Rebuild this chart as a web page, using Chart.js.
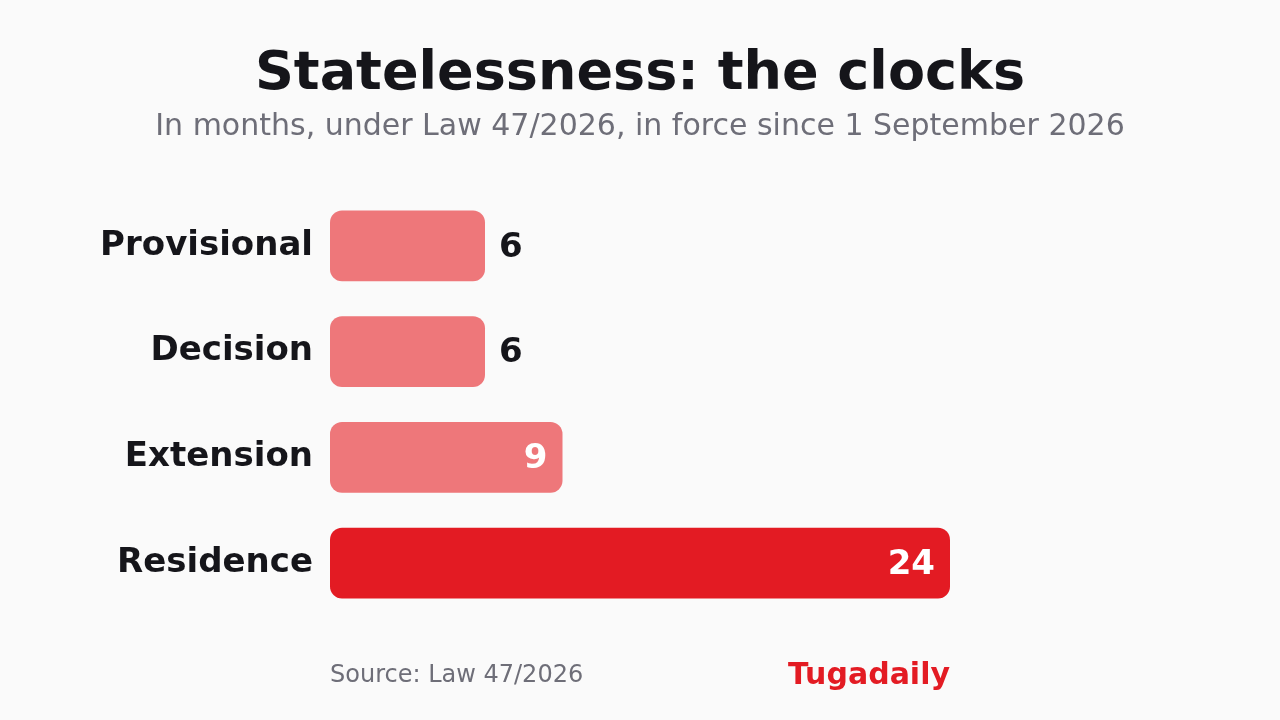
<!DOCTYPE html>
<html><head><meta charset="utf-8">
<script src="https://cdn.jsdelivr.net/npm/chart.js@4"></script>
<style>
html,body{margin:0;padding:0;background:#fafafa;width:1280px;height:720px;overflow:hidden;font-family:"DejaVu Sans",sans-serif;}
#wrap{position:absolute;left:0;top:0;width:1280px;height:720px;}
.t{position:absolute;white-space:nowrap;}
#title{left:0;width:1280px;text-align:center;top:37px;font-size:54px;font-weight:bold;color:#15151a;line-height:68px;}
#sub{left:0;width:1280px;text-align:center;top:106px;font-size:30px;color:#6e6e78;line-height:38px;}
#src{left:330px;top:659px;font-size:24px;color:#6e6e78;line-height:30px;}
#brand{right:330px;top:656px;font-size:30px;font-weight:bold;color:#e31b23;line-height:36px;}
</style></head><body>
<div id="wrap"><canvas id="c" width="1280" height="720"></canvas></div>
<div class="t" id="title">Statelessness: the clocks</div>
<div class="t" id="sub">In months, under Law 47/2026, in force since 1 September 2026</div>
<div class="t" id="src">Source: Law 47/2026</div>
<div class="t" id="brand">Tugadaily</div>
<script>
const categories = ["Provisional","Decision","Extension","Residence"];
const months = [6,6,9,24];
const barColors = ["#ee777a","#ee777a","#ee777a","#e31b23"];
const insideMin = 9;

const valueLabels = {
  id:'valueLabels',
  afterDatasetsDraw(chart){
    const ctx = chart.ctx;
    const meta = chart.getDatasetMeta(0);
    ctx.save();
    ctx.font = 'bold 34px "DejaVu Sans"';
    ctx.textBaseline = 'middle';
    meta.data.forEach((bar,i)=>{
      const v = months[i];
      if (v >= insideMin){
        ctx.fillStyle = '#ffffff';
        ctx.textAlign = 'right';
        ctx.fillText(String(v), bar.x - 15, bar.y + 2);
      } else {
        ctx.fillStyle = '#15151a';
        ctx.textAlign = 'left';
        ctx.fillText(String(v), bar.x + 14, bar.y + 2);
      }
    });
    ctx.restore();
  }
};

new Chart(document.getElementById('c'), {
  type:'bar',
  data:{labels:categories,datasets:[{data:months,backgroundColor:barColors,borderRadius:12,borderSkipped:false,barPercentage:0.67,categoryPercentage:1}]},
  options:{
    indexAxis:'y',responsive:false,animation:false,devicePixelRatio:1,
    layout:{padding:{left:0,right:330,top:193,bottom:104}},
    plugins:{legend:{display:false},tooltip:{enabled:false},title:{display:false}},
    scales:{
      x:{display:false,min:0,max:24},
      y:{
        grid:{display:false,drawTicks:false},border:{display:false},
        ticks:{color:'#15151a',font:{family:'"DejaVu Sans"',size:34,weight:'bold'},padding:17},
        afterFit(s){s.width=330;}
      }
    }
  },
  plugins:[valueLabels]
});
</script>
</body></html>
